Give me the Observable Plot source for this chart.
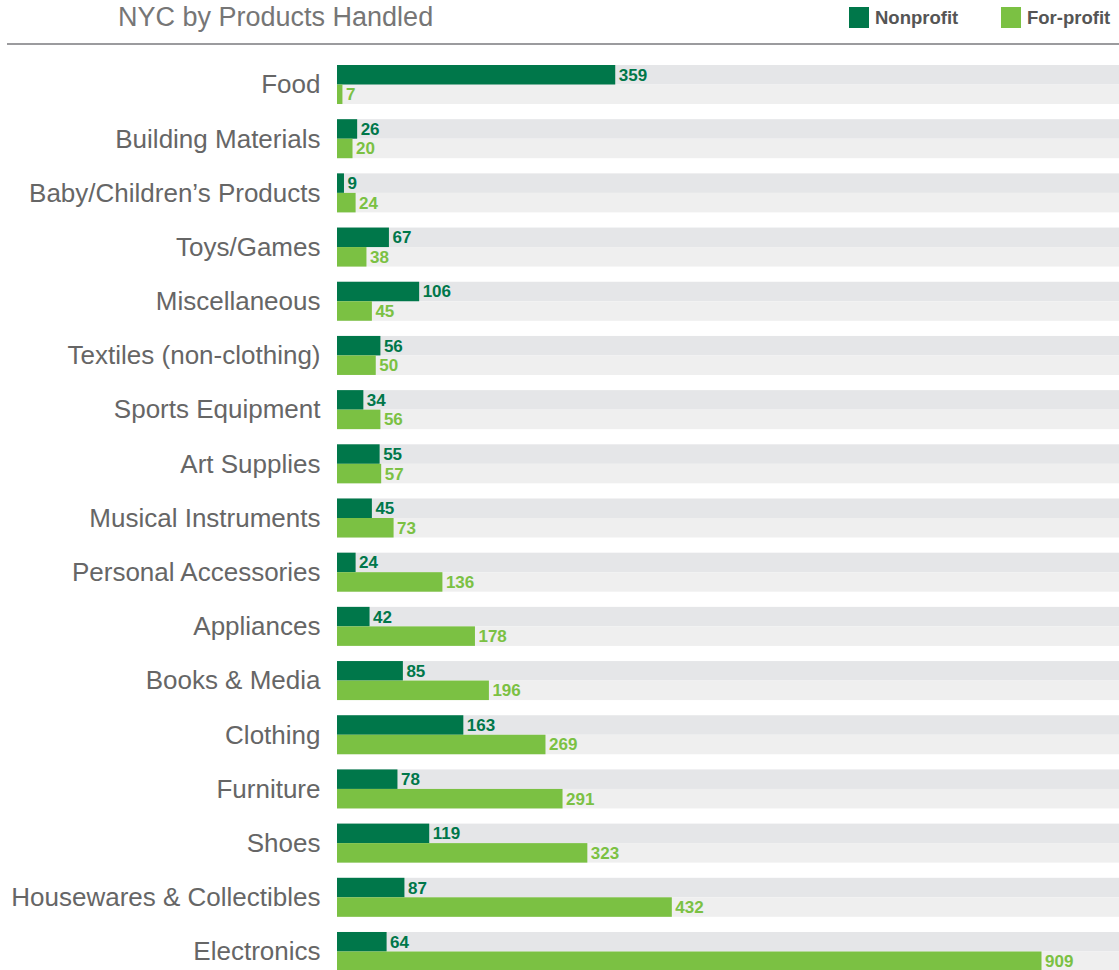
<!DOCTYPE html>
<html>
<head>
<meta charset="utf-8">
<script src="https://cdn.jsdelivr.net/npm/d3@7"></script>
<script src="https://cdn.jsdelivr.net/npm/@observablehq/plot@0.6"></script>
<style>
  html, body { margin: 0; padding: 0; background: #fff; }
  body { width: 1119px; height: 970px; overflow: hidden; font-family: "Liberation Sans", Arial, sans-serif; }
  #header { position: relative; width: 1119px; height: 48px; }
  #subtitle { position: absolute; left: 118px; top: 1px; font-size: 27px; color: #767676; line-height: 32px; white-space: nowrap; }
  #rule { position: absolute; left: 7px; right: 0; top: 43px; height: 2px; background: #9b9b9e; }
  .leg { position: absolute; top: 7px; height: 21px; display: flex; align-items: center; font-size: 18.5px; font-weight: bold; color: #555; white-space: nowrap; }
  .sw { width: 20px; height: 21px; margin-right: 6px; }
  #chart svg { display: block; }
</style>
</head>
<body>
<div id="header">
  <div id="subtitle">NYC by Products Handled</div>
  <div class="leg" style="left:849px"><div class="sw" style="background:#00774a"></div>Nonprofit</div>
  <div class="leg" style="left:1001px"><div class="sw" style="background:#7bc143"></div>For-profit</div>
  <div id="rule"></div>
</div>
<div id="chart"></div>
<script>
const categories = ["Food", "Building Materials", "Baby/Children’s Products", "Toys/Games", "Miscellaneous",
  "Textiles (non-clothing)", "Sports Equipment", "Art Supplies", "Musical Instruments", "Personal Accessories",
  "Appliances", "Books & Media", "Clothing", "Furniture", "Shoes", "Housewares & Collectibles", "Electronics"];
const series = ["Nonprofit", "For-profit"];
const nonprofit = [359, 26, 9, 67, 106, 56, 34, 55, 45, 24, 42, 85, 163, 78, 119, 87, 64];
const forprofit = [7, 20, 24, 38, 45, 50, 56, 57, 73, 136, 178, 196, 269, 291, 323, 432, 909];
const xDomain = [0, 1009];
const colors = {"Nonprofit": "#00774a", "For-profit": "#7bc143"};
const bgColors = {"Nonprofit": "#e5e6e8", "For-profit": "#efefef"};

const data = [];
categories.forEach((c, i) => {
  data.push({category: c, series: "Nonprofit", value: nonprofit[i]});
  data.push({category: c, series: "For-profit", value: forprofit[i]});
});
const npData = data.filter(d => d.series === "Nonprofit");
const fpData = data.filter(d => d.series === "For-profit");

const chart = Plot.plot({
  width: 1119,
  height: 923,
  marginLeft: 337,
  marginRight: 0,
  marginTop: 17,
  marginBottom: 0,
  style: {fontFamily: "'Liberation Sans', Arial, sans-serif", background: "#fff"},
  x: {domain: xDomain, axis: null},
  y: {domain: series, axis: null, paddingInner: 0, paddingOuter: 0, round: false},
  fy: {domain: categories, paddingInner: 0.28, paddingOuter: 0, axis: null, label: null, round: false},
  marks: [
    Plot.barX(npData, {x1: () => xDomain[0], x2: () => xDomain[1], y: "series", fy: "category", fill: bgColors["Nonprofit"]}),
    Plot.barX(fpData, {x1: () => xDomain[0], x2: () => xDomain[1], y: "series", fy: "category", fill: bgColors["For-profit"]}),
    Plot.barX(npData, {x: "value", y: "series", fy: "category", fill: colors["Nonprofit"]}),
    Plot.barX(fpData, {x: "value", y: "series", fy: "category", fill: colors["For-profit"]}),
    Plot.text(npData, {x: "value", y: "series", fy: "category", text: d => String(d.value), dx: 3, textAnchor: "start", fontSize: 17, fontWeight: "bold", fill: colors["Nonprofit"]}),
    Plot.text(fpData, {x: "value", y: "series", fy: "category", text: d => String(d.value), dx: 3, textAnchor: "start", fontSize: 17, fontWeight: "bold", fill: colors["For-profit"]}),
    Plot.axisFy({anchor: "left", tickSize: 0, tickPadding: 17, label: null, fontSize: 26, color: "#666666"})
  ]
});
document.getElementById("chart").appendChild(chart);
</script>
</body>
</html>
